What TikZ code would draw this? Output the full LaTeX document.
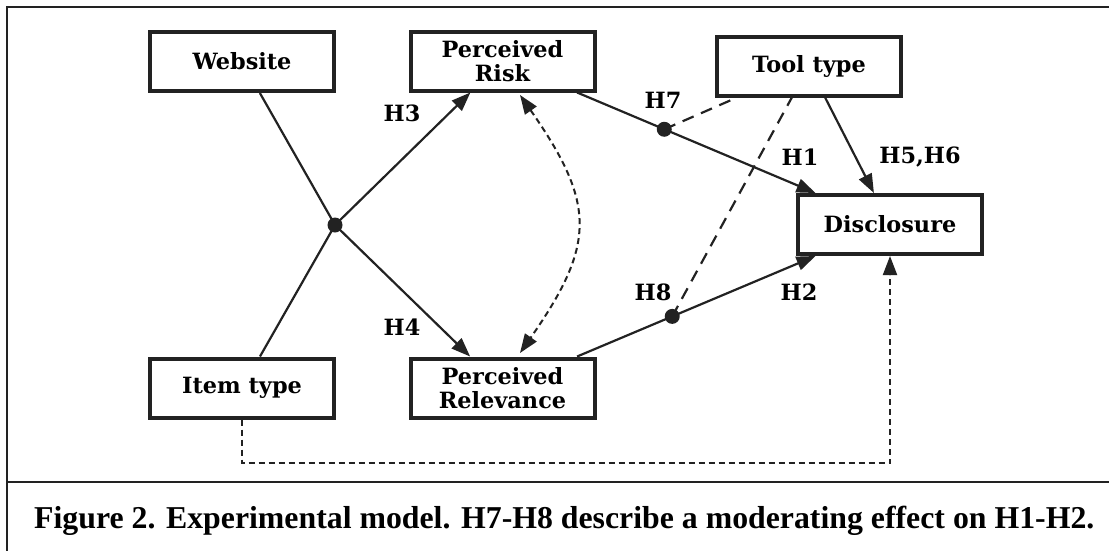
\documentclass[tikz,border=0pt]{standalone}
\usepackage{fontspec}
\setmainfont{Liberation Serif}
\newfontfamily\boxfont{DejaVu Serif}
\usetikzlibrary{arrows.meta,calc}
\definecolor{ink}{HTML}{222222}
\tikzset{
  var/.style={draw=ink, line width=4pt, minimum width=184pt, minimum height=59pt,
    inner sep=0pt, align=center, font=\boxfont\bfseries\fontsize{22.4}{23.5}\selectfont},
  conn/.style={draw=ink, line width=2.2pt},
  arr/.style={conn, -{Triangle[length=19pt,width=14pt]}},
  longdash/.style={conn, dash pattern=on 12pt off 8pt},
  shortdash/.style={draw=ink, line width=2pt, dash pattern=on 6pt off 4pt},
  hlab/.style={font=\boxfont\bfseries\fontsize{22.4}{23.5}\selectfont, inner sep=0pt},
  dot/.style={circle, fill=ink, minimum size=15pt, inner sep=0pt}
}
\begin{document}
\begin{tikzpicture}[x=1pt, y=-1pt]
\useasboundingbox (0,0) rectangle (1109,550);
% frame
\draw[ink, line width=2.5pt] (7,560) -- (7,7) -- (1115,7);
\draw[ink, line width=2.5pt] (7,482) -- (1115,482);
% boxes
\node[var] (website) at (242,61.5) {Website};
\node[var] (risk) at (502.5,61) {Perceived\\Risk};
\node[var] (tool) at (809,66) {Tool type};
\node[var] (disc) at (890,224.5) {Disclosure};
\node[var] (item) at (242,388) {Item type};
\node[var] (relev) at (502.5,388) {Perceived\\Relevance};
% junction
\node[dot] (J) at (335,225) {};
\draw[conn] (website) -- (J.center);
\draw[conn] (item) -- (J.center);
\draw[arr] (J.center) -- (risk);
\draw[arr] (J.center) -- (relev);
% moderation dots
\node[dot] (m7) at ($(risk)!0.4175!(disc)$) {};
\node[dot] (m8) at ($(relev)!0.438!(disc)$) {};
\draw[arr] (risk) -- (disc);
\draw[arr] (relev) -- (disc);
\draw[longdash] (m7.center) -- (tool);
\draw[longdash] (m8.center) -- (tool);
\draw[arr] (tool) -- (disc);
% correlation curve
\coordinate (ct) at (520,95);
\coordinate (cb) at (520,353);
\draw[shortdash, {Triangle[length=19pt,width=14pt]}-{Triangle[length=19pt,width=14pt]}]
  (ct) .. controls (596,204) and (596,244) .. (cb);
% item -> disclosure
\coordinate (bot) at (566,463);
\draw[shortdash, -{Triangle[length=19pt,width=14pt]}] (item.south) |- (bot) -| (disc.south);
% labels
\node[hlab] (h3) at (402,113) {H3};
\node[hlab] (h4) at (402,327) {H4};
\node[hlab] (h7) at (663,100) {H7};
\node[hlab] (h1) at (800,157) {H1};
\node[hlab] (h56) at (920,157) {H5,H6};
\node[hlab] (h8) at (653,292) {H8};
\node[hlab] (h2) at (799,292) {H2};
% caption
\node[anchor=base west, inner sep=0pt, font=\bfseries\fontsize{31.8}{33}\selectfont] (cap) at (34,528)
  {Figure 2. Experimental model. H7-H8 describe a moderating effect on H1-H2.};
\end{tikzpicture}
\end{document}
